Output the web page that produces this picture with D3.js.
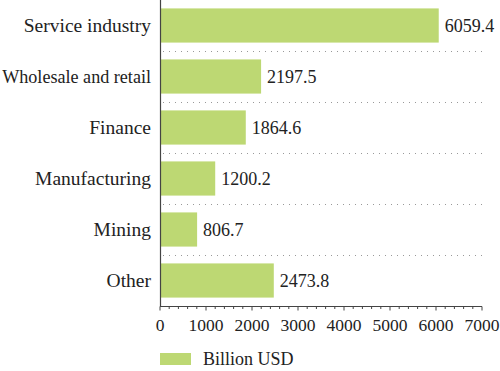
<!DOCTYPE html>
<meta charset="utf-8">
<body style="margin:0; background:#fff">
<script src="https://d3js.org/d3.v7.min.js"></script>
<script>
	// chart values
	var categories = ["Service industry", "Wholesale and retail", "Finance", "Manufacturing", "Mining", "Other"];
	var values = [6059.4, 2197.5, 1864.6, 1200.2, 806.7, 2473.8];
	var ticks = [0, 1000, 2000, 3000, 4000, 5000, 6000, 7000];
	var seriesName = "Billion USD";

	var width = 500, height = 371;
	var margin = {top: 0, right: 18, bottom: 65, left: 160};
	var barColor = "#bdd873";
	var serifFont = "'Liberation Serif', 'Times New Roman', Times, serif";
	var textColor = "#222";

	var svg = d3.select("body").append("svg")
		.attr("width", width)
		.attr("height", height);

	function serif(sel, size) {
		sel.style("font-family", serifFont, "important")
			.style("font-size", size + "px", "important")
			.attr("font-family", "Liberation Serif")
			.attr("font-size", size)
			.attr("fill", textColor);
	}

	var x = d3.scaleLinear().domain([0, 7000]).range([margin.left, 482]);
	var y = d3.scaleBand().domain(categories).range([0, 306]).paddingInner(0.33).paddingOuter(0.165);

	// dotted separators between categories
	var step = y.step();
	svg.append("g")
		.selectAll("line")
		.data(categories.slice(1))
		.enter().append("line")
		.attr("x1", x(0) + 3)
		.attr("x2", x(7000))
		.attr("y1", function(d) { return Math.round(y(d) - step * y.paddingInner() / 2) + 0.5; })
		.attr("y2", function(d) { return Math.round(y(d) - step * y.paddingInner() / 2) + 0.5; })
		.attr("stroke", "#999")
		.attr("stroke-dasharray", "1 5");

	// bars
	svg.append("g").selectAll("rect")
		.data(values)
		.enter().append("rect")
		.attr("x", x(0))
		.attr("y", function(d, i) { return y(categories[i]); })
		.attr("width", function(d) { return x(d) - x(0); })
		.attr("height", y.bandwidth())
		.attr("fill", barColor);

	// value labels
	svg.append("g").selectAll("text")
		.data(values)
		.enter().append("text")
		.attr("x", function(d) { return x(d) + 6; })
		.attr("y", function(d, i) { return y(categories[i]) + y.bandwidth() / 2; })
		.attr("dy", "0.35em")
		.call(serif, 18)
		.text(function(d) { return d.toFixed(1); });

	// category labels
	var catLabels = svg.append("g").selectAll("text")
		.data(categories)
		.enter().append("text")
		.attr("x", x(0) - 9)
		.attr("y", function(d) { return y(d) + y.bandwidth() / 2; })
		.attr("dy", "0.35em")
		.attr("text-anchor", "end")
		.call(serif, 19.5)
		.text(function(d) { return d; });
	// keep long labels inside the left edge
	catLabels.each(function() {
		var w = this.getComputedTextLength();
		if (w > x(0) - 11) {
			var s = 19.5 * (x(0) - 11) / w;
			d3.select(this).call(serif, s);
		}
	});

	// y axis line
	svg.append("line")
		.attr("x1", x(0) + 0.5).attr("x2", x(0) + 0.5)
		.attr("y1", 0).attr("y2", 307)
		.attr("stroke", "#444").attr("stroke-width", 1.2);

	// x axis with minor ticks
	var minor = d3.range(0, 7001, 200);
	var gx = svg.append("g").attr("transform", "translate(0,306.5)");
	gx.append("line")
		.attr("x1", x(0)).attr("x2", x(7000))
		.attr("stroke", "#444").attr("stroke-width", 1.2);
	gx.selectAll(".minor")
		.data(minor)
		.enter().append("line")
		.attr("x1", function(d) { return x(d); })
		.attr("x2", function(d) { return x(d); })
		.attr("y1", 0)
		.attr("y2", function(d) { return d % 1000 === 0 ? 4 : 2.5; })
		.attr("stroke", "#444");
	gx.selectAll("text")
		.data(ticks)
		.enter().append("text")
		.attr("x", function(d) { return x(d); })
		.attr("y", 18)
		.attr("dy", "0.35em")
		.attr("text-anchor", "middle")
		.call(serif, 17.5)
		.text(function(d) { return d; });

	// legend
	var legend = svg.append("g").attr("transform", "translate(160,353)");
	legend.append("rect")
		.attr("width", 31).attr("height", 12)
		.attr("fill", barColor);
	legend.append("text")
		.attr("x", 43).attr("y", 6).attr("dy", "0.35em")
		.call(serif, 18)
		.text(seriesName);
</script>
</body>
